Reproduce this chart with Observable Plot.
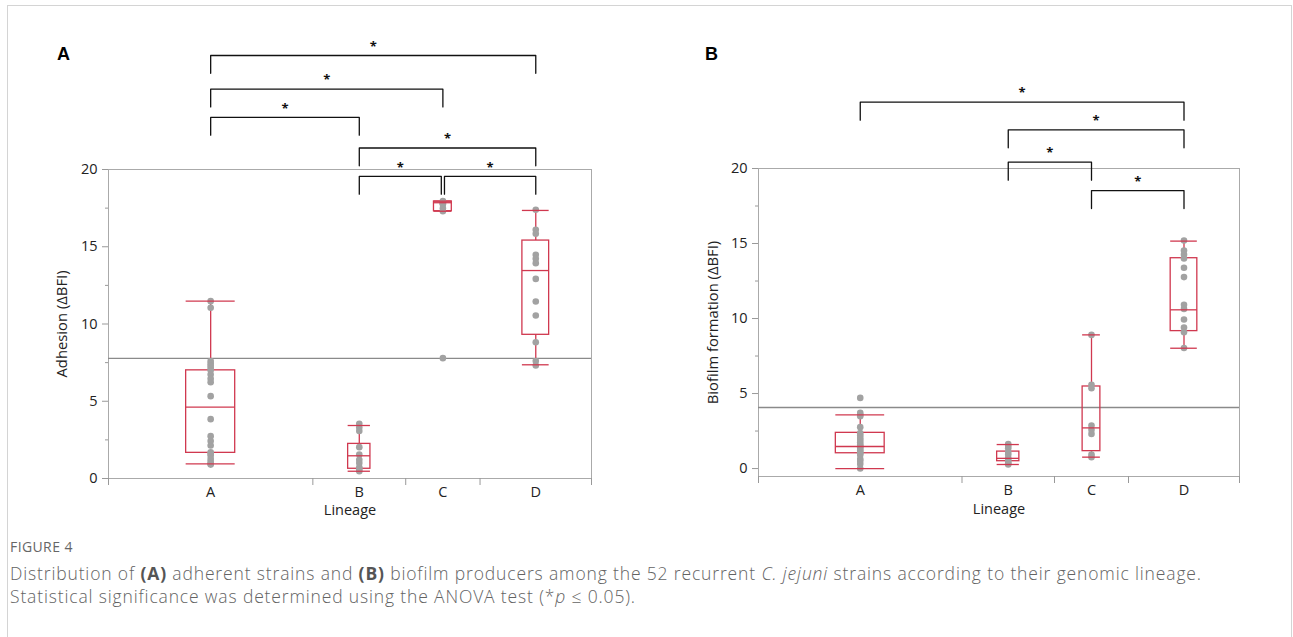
<!DOCTYPE html>
<html><head><meta charset="utf-8">
<script src="https://cdn.jsdelivr.net/npm/d3@7"></script>
<script src="https://cdn.jsdelivr.net/npm/@observablehq/plot@0.6"></script>
<style>
body{margin:0;background:#fff;}
#fig{position:relative;width:1293px;height:637px;overflow:hidden;font-family:"Open Sans",sans-serif;}
#border{position:absolute;left:7px;top:5px;width:1283px;height:700px;border:1px solid #d4d4d4;}
.plabel{position:absolute;font-family:"Liberation Sans",Arial,sans-serif;font-weight:bold;font-size:18px;line-height:18px;color:#000;}
#figno{position:absolute;left:10px;top:537px;font-size:14px;line-height:20px;color:#666;letter-spacing:0.4px;}
#cap{position:absolute;left:10px;top:562px;font-size:17.5px;line-height:23px;color:#636363;font-weight:300;letter-spacing:0.85px;white-space:nowrap;}
#cap b{font-weight:700;color:#555;}
</style></head>
<body>
<div id="fig">
  <div id="border"></div>
  <div id="pa" style="position:absolute;left:0;top:0"></div>
  <div id="pb" style="position:absolute;left:646px;top:0"></div>
  <div class="plabel" style="left:57px;top:45px">A</div>
  <div class="plabel" style="left:705px;top:45px">B</div>
  <div id="figno">FIGURE 4</div>
  <div id="cap">Distribution of <b>(A)</b> adherent strains and <b>(B)</b> biofilm producers among the 52 recurrent <i>C. jejuni</i> strains according to their genomic lineage.<br>Statistical significance was determined using the ANOVA test (*<i>p</i> ≤ 0.05).</div>
</div>
<script>
// ---- categories ----
const lineages = ["A", "B", "C", "D"];
const counts = [22, 10, 8, 12];

// ---- Panel A: Adhesion (ΔBFI) per strain ----
const adhA = [11.48, 11.05, 7.6, 7.45, 7.3, 7.15, 7.0, 6.73, 6.45, 6.23, 5.33, 3.84, 2.74, 2.42, 2.14, 1.7, 1.6, 1.49, 1.27, 1.1, 0.95, 0.9];
const adhB = [3.54, 3.3, 3.07, 2.03, 1.55, 1.21, 1.0, 0.73, 0.6, 0.47];
const adhC = [17.95, 17.9, 17.85, 17.8, 17.75, 17.5, 17.3, 7.79];
const adhD = [17.39, 16.1, 15.84, 14.48, 14.22, 13.94, 12.92, 11.46, 10.55, 8.82, 7.6, 7.31];
const adhQ1 = [1.66, 0.63, 17.3, 9.3];
const adhMed = [4.62, 1.47, 17.85, 13.46];
const adhQ3 = [7.0, 2.24, 17.93, 15.4];
const adhLo = [0.95, 0.47, 17.3, 7.36];
const adhHi = [11.48, 3.43, 17.95, 17.35];
const adhMean = 7.77;
const adhBrFrom = ["A", "A", "A", "B", "B", "C"];
const adhBrTo = ["D", "C", "B", "D", "C", "D"];
const adhBrLevel = [27.38, 25.2, 23.37, 21.39, 19.55, 19.55];

// ---- Panel B: Biofilm formation (ΔBFI) per strain ----
const bioA = [4.71, 3.71, 3.58, 3.49, 2.76, 2.36, 2.2, 2.04, 1.9, 1.76, 1.6, 1.5, 1.42, 1.3, 1.2, 1.09, 1.02, 0.9, 0.64, 0.5, 0.3, 0.0];
const bioB = [1.64, 1.5, 1.36, 1.1, 0.93, 0.7, 0.58, 0.45, 0.35, 0.27];
const bioC = [8.91, 5.58, 5.36, 2.87, 2.58, 2.31, 0.93, 0.76];
const bioD = [15.2, 14.53, 14.27, 14.0, 13.38, 12.76, 10.91, 10.64, 9.93, 9.4, 9.09, 8.04];
const bioQ1 = [1.02, 0.49, 1.16, 9.16];
const bioMed = [1.47, 0.68, 2.71, 10.58];
const bioQ3 = [2.38, 1.13, 5.47, 14.02];
const bioLo = [0.0, 0.27, 0.76, 8.02];
const bioHi = [3.58, 1.6, 8.91, 15.16];
const bioMean = 4.07;
const bioBrFrom = ["A", "B", "B", "C"];
const bioBrTo = ["D", "D", "C", "D"];
const bioBrLevel = [24.42, 22.58, 20.42, 18.53];

const yTicks = [0, 5, 10, 15, 20];
const yMinor = [2.5, 7.5, 12.5, 17.5];

const RED = "#d0384f";
const GRAY = "#a2a2a2";

function panel(o) {
  const ends = Array.from(d3.cumsum(counts));
  const starts = [0, ...ends.slice(0, -1)];
  const centers = counts.map((n, i) => starts[i] + n / 2);
  const bounds = [0, ...ends];
  const stats = lineages.map((g, i) => ({
    g, cx: centers[i], hw: counts[i] * 0.12,
    q1: o.q1[i], med: o.med[i], q3: o.q3[i], lo: o.lo[i], hi: o.hi[i]
  }));
  const pts = lineages.flatMap((g, i) => o.points[i].map(v => ({g, cx: centers[i], v})));
  const br = o.brFrom.map((f, j) => {
    const a = lineages.indexOf(f), b = lineages.indexOf(o.brTo[j]);
    let x1 = centers[a], x2 = centers[b];
    o.brFrom.forEach((f2, k) => {
      if (k !== j && o.brLevel[k] === o.brLevel[j]) {
        if (f2 === o.brTo[j]) x2 -= 0.17;
        if (o.brTo[k] === f) x1 += 0.17;
      }
    });
    return {id: j, x1, x2, lvl: o.brLevel[j]};
  });
  const brPath = br.flatMap(d => [
    {id: d.id, x: d.x1, y: d.lvl - o.legLen},
    {id: d.id, x: d.x1, y: d.lvl},
    {id: d.id, x: d.x2, y: d.lvl},
    {id: d.id, x: d.x2, y: d.lvl - o.legLen}
  ]);
  return Plot.plot({
    width: o.width, height: o.height,
    marginLeft: o.marginLeft, marginRight: o.marginRight,
    marginTop: o.marginTop, marginBottom: o.marginBottom,
    style: {fontFamily: "'Open Sans', sans-serif", fontSize: "14px", color: "#222", background: "transparent", overflow: "visible"},
    x: {domain: [0, d3.sum(counts)]},
    y: {domain: o.yDomain},
    marks: [
      Plot.frame({stroke: "#aaaaaa"}),
      Plot.ruleY([o.mean], {stroke: "#8a8a8a", strokeWidth: 1.3}),
      Plot.ruleX(stats, {x: "cx", y1: "q3", y2: "hi", stroke: RED, strokeWidth: 1.3}),
      Plot.ruleX(stats, {x: "cx", y1: "lo", y2: "q1", stroke: RED, strokeWidth: 1.3}),
      Plot.rect(stats, {x1: d => d.cx - d.hw, x2: d => d.cx + d.hw, y1: "q1", y2: "q3", fill: "none", stroke: RED, strokeWidth: 1.3}),
      Plot.dot(pts, {x: "cx", y: "v", r: 3.3, fill: GRAY}),
      Plot.ruleY(stats, {x1: d => d.cx - d.hw, x2: d => d.cx + d.hw, y: "med", stroke: RED, strokeWidth: 1.3}),
      Plot.ruleY(stats, {x1: d => d.cx - d.hw, x2: d => d.cx + d.hw, y: "hi", stroke: RED, strokeWidth: 1.3}),
      Plot.ruleY(stats, {x1: d => d.cx - d.hw, x2: d => d.cx + d.hw, y: "lo", stroke: RED, strokeWidth: 1.3}),
      Plot.line(brPath, {x: "x", y: "y", z: "id", stroke: "#111", strokeWidth: 1.3}),
      Plot.text(br, {x: d => (d.x1 + d.x2) / 2, y: "lvl", text: () => "*", dy: -9, fontSize: 13, fontWeight: "bold", fill: "#111"}),
      Plot.axisY({ticks: yTicks, tickSize: 6, tickPadding: 5, label: null, stroke: "#999", fill: "#222", fontSize: 14.5}),
      Plot.axisY({ticks: yMinor, tickSize: 3, tickFormat: () => "", label: null, stroke: "#999"}),
      Plot.axisX({ticks: bounds, tickSize: 7, tickFormat: () => "", label: null, stroke: "#999"}),
      Plot.axisX({ticks: centers, tickSize: 0, tickPadding: 8, tickFormat: d => lineages[centers.indexOf(d)], label: null, fill: "#222", fontSize: 14.5}),
      Plot.text([o.yLabel], {text: d => d, frameAnchor: "left", textAnchor: "middle", lineAnchor: "middle", dx: o.yLabelDx, rotate: -90, fontSize: 14.8, fill: "#222"}),
      Plot.text(["Lineage"], {text: d => d, frameAnchor: "bottom", textAnchor: "middle", dy: o.xLabelDy, fontSize: 14.5, fill: "#222"})
    ]
  });
}

document.getElementById("pa").append(panel({
  points: [adhA, adhB, adhC, adhD],
  q1: adhQ1, med: adhMed, q3: adhQ3, lo: adhLo, hi: adhHi, mean: adhMean,
  brFrom: adhBrFrom, brTo: adhBrTo, brLevel: adhBrLevel, legLen: 1.15,
  yDomain: [0, 20], yLabel: "Adhesion (ΔBFI)", yLabelDx: -46, xLabelDy: 36,
  width: 646, height: 530, marginLeft: 108, marginRight: 55, marginTop: 169, marginBottom: 52
}));
document.getElementById("pb").append(panel({
  points: [bioA, bioB, bioC, bioD],
  q1: bioQ1, med: bioMed, q3: bioQ3, lo: bioLo, hi: bioHi, mean: bioMean,
  brFrom: bioBrFrom, brTo: bioBrTo, brLevel: bioBrLevel, legLen: 1.2,
  yDomain: [-0.53, 20], yLabel: "Biofilm formation (ΔBFI)", yLabelDx: -45, xLabelDy: 37,
  width: 647, height: 530, marginLeft: 112, marginRight: 54, marginTop: 168, marginBottom: 54
}));
</script>
</body></html>
